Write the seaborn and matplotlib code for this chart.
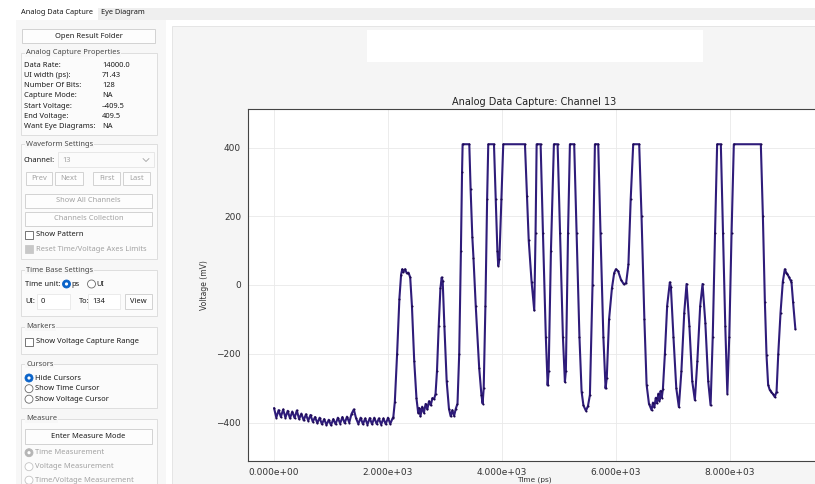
import numpy as np
import pandas as pd
import matplotlib
matplotlib.use("Agg")
import matplotlib.pyplot as plt
from matplotlib.patches import Rectangle, Ellipse
from matplotlib.lines import Line2D
from matplotlib.ticker import FuncFormatter
import seaborn as sns

# Waveform read off the capture (time in ps, voltage in mV)
# quiet low level before the first transition
lead_time_ps = [0, 40, 80, 120, 160, 200, 240, 280, 320, 360, 400, 440, 480, 520,
                560, 600, 640, 680, 720, 760, 800, 840, 880, 920, 960, 1000, 1040,
                1080, 1120, 1160, 1200, 1240, 1280, 1320, 1360, 1400, 1440, 1480,
                1520, 1560, 1600, 1640, 1680, 1720, 1760, 1800, 1840, 1880, 1920,
                1960, 2000, 2040, 2080]
lead_mv = [-358, -386, -364, -384, -362, -386, -366, -388, -368, -387, -365, -390,
           -374, -394, -376, -395, -378, -398, -384, -402, -386, -405, -390, -407,
           -392, -408, -390, -405, -386, -403, -384, -402, -383, -400, -375, -362,
           -388, -404, -386, -405, -388, -406, -387, -405, -386, -404, -388, -406,
           -388, -405, -386, -404, -388]

# data bits section
bits_time_ps = [2093, 2120, 2160, 2200, 2230, 2250, 2270, 2300, 2330, 2360, 2390, 2420,
                2460, 2500, 2530, 2550, 2570, 2600, 2630, 2660, 2690, 2720, 2750, 2780,
                2810, 2835, 2860, 2890, 2920, 2942, 2960, 2990, 3030, 3070, 3100, 3130,
                3160, 3190, 3220, 3250, 3280, 3300, 3310, 3427, 3450, 3480, 3500, 3540,
                3600, 3640, 3661, 3680, 3710, 3740, 3760, 3860, 3890, 3920, 3935, 3955,
                3990, 4023, 4404, 4440, 4470, 4520, 4567, 4590, 4609, 4679, 4720, 4770,
                4802, 4820, 4860, 4912, 4977, 5020, 5070, 5105, 5122, 5160, 5193, 5268,
                5310, 5360, 5398, 5430, 5474, 5510, 5544, 5590, 5632, 5690, 5730, 5780,
                5819, 5840, 5880, 5930, 5970, 6000, 6040, 6090, 6140, 6180, 6220, 6260,
                6304, 6409, 6450, 6500, 6539, 6580, 6626, 6650, 6675, 6700, 6720, 6745,
                6765, 6785, 6805, 6825, 6860, 6900, 6947, 6965, 7010, 7060, 7105, 7150,
                7200, 7240, 7290, 7340, 7386, 7430, 7480, 7521, 7570, 7620, 7662, 7700,
                7740, 7777, 7842, 7880, 7920, 7956, 7990, 8030, 8070, 8544, 8580, 8615,
                8644, 8672, 8700, 8731, 8760, 8789, 8820, 8850, 8890, 8930, 8965, 8990,
                9010, 9040, 9065, 9082, 9110, 9150]
bits_mv = [-385, -340, -200, -40, 30, 46, 38, 46, 34, 36, 22, -60,
           -220, -330, -372, -358, -382, -354, -372, -346, -362, -338, -350, -329,
           -332, -316, -250, -120, -10, 22, 12, -120, -280, -360, -382, -364,
           -381, -360, -345, -200, 100, 330, 409.5, 409.5, 280, 140, 80, -60,
           -240, -320, -345, -300, -60, 250, 409.5, 409.5, 250, 100, 56, 75,
           250, 409.5, 409.5, 260, 130, 10, -74, 150, 409.5, 409.5, 150, -150,
           -292, -250, 100, 409.5, 409.5, 150, -150, -282, -250, 150, 409.5, 409.5,
           150, -150, -310, -350, -366, -352, -320, 0, 409.5, 409.5, 150, -150,
           -301, -270, -100, -10, 35, 46, 40, 15, 2, 6, 60, 250,
           409.5, 409.5, 200, -100, -290, -345, -364, -342, -356, -328, -344, -316,
           -336, -308, -328, -303, -200, -60, 8, -5, -150, -300, -355, -250,
           -80, 3, -120, -280, -335, -220, -60, 3, -110, -280, -350, -150,
           150, 409.5, 409.5, 150, -120, -316, -150, 150, 409.5, 409.5, 200, -50,
           -205, -290, -305, -312, -318, -326, -310, -200, -80, 10, 46, 36,
           32, 22, 14, 8, -50, -128]

x_ticks = [0, 2000, 4000, 6000, 8000]
y_ticks = [-400, -200, 0, 200, 400]

props_labels = ["Data Rate:", "UI width (ps):", "Number Of Bits:", "Capture Mode:",
                "Start Voltage:", "End Voltage:", "Want Eye Diagrams:"]
props_values = ["14000.0", "71.43", "128", "NA", "\u2013409.5", "409.5", "NA"]

df = pd.DataFrame({"Time (ps)": lead_time_ps + bits_time_ps,
                   "Voltage (mV)": lead_mv + bits_mv})

sns.set_style("white")
plt.rcParams["font.family"] = ["DejaVu Sans"]

W, H = 815, 484
fig = plt.figure(figsize=(W / 100, H / 100), dpi=100)
fig.patch.set_facecolor("white")

UI_FONT = ["Noto Sans", "DejaVu Sans"]
DARK = "#1b1b1b"
GREY = "#a2a2a2"


def fx(px):
    return px / W


def fy(py):
    return 1 - py / H


def rect(x0, y0, x1, y1, fc, ec="none", lw=0.8, z=0):
    fig.add_artist(Rectangle((fx(x0), fy(y1)), (x1 - x0) / W, (y1 - y0) / H,
                             transform=fig.transFigure, fc=fc, ec=ec, lw=lw, zorder=z))


def label(px, py, s, color=DARK, size=5.4, weight="normal", ha="left", bg=None):
    t = fig.text(fx(px), fy(py), s, color=color, fontsize=size, fontweight=weight,
                 ha=ha, va="center", family=UI_FONT, zorder=5)
    if bg is not None:
        t.set_bbox(dict(fc=bg, ec="none", pad=0.6))


def button(x0, y0, x1, y1, s, color=DARK):
    rect(x0, y0, x1, y1, "#fdfdfd", "#d2d2d2", 0.7, z=2)
    label((x0 + x1) / 2, (y0 + y1) / 2, s, color=color, ha="center")


def group(x0, y0, x1, y1, title):
    rect(x0, y0, x1, y1, "#fbfbfb", "#dedede", 0.7, z=1)
    label(x0 + 5, y0, title, color="#4a4a4a", bg="#f7f7f7")


def radio(cx, cy, on=False, disabled=False):
    ring = "#c4c4c4" if disabled else "#6a6a6a"
    if on:
        col = "#b5b5b5" if disabled else "#0a63c9"
        fig.add_artist(Ellipse((fx(cx), fy(cy)), 8 / W, 8 / H, transform=fig.transFigure,
                               fc=col, ec=col, lw=0.6, zorder=4))
        fig.add_artist(Ellipse((fx(cx), fy(cy)), 3.2 / W, 3.2 / H, transform=fig.transFigure,
                               fc="white", ec="none", zorder=5))
    else:
        fig.add_artist(Ellipse((fx(cx), fy(cy)), 8 / W, 8 / H, transform=fig.transFigure,
                               fc="white", ec=ring, lw=0.6, zorder=4))


def checkbox(x0, cy, filled=False):
    if filled:
        rect(x0, cy - 4, x0 + 8, cy + 4, "#c8c8c8", "#c8c8c8", 0.6, z=4)
    else:
        rect(x0, cy - 4, x0 + 8, cy + 4, "white", "#5e5e5e", 0.6, z=4)


# ---- window chrome ----
rect(0, 0, W, 8, "white")
rect(98, 8, W, 20, "#efefef")
label(21, 13, "Analog Data Capture", size=5.3)
label(101, 13, "Eye Diagram", size=5.3)
rect(16, 20, 166, H, "#f7f7f7")
rect(172, 26, W, H, "#f5f5f5", "#e2e2e2", 0.6)
rect(367, 30, 703, 62, "white")

# ---- left control panel ----
button(22, 29, 155, 43, "Open Result Folder")

group(21, 53, 157, 135, "Analog Capture Properties")
for i, (k, v) in enumerate(zip(props_labels, props_values)):
    yy = 65.3 + i * 10.2
    label(24, yy, k, weight="bold")
    label(102, yy, v)

group(21, 144, 157, 259, "Waveform Settings")
label(24, 160, "Channel:", weight="bold")
rect(58, 152, 154, 167, "#fbfbfb", "#e4e4e4", 0.6, z=2)
label(62, 160, "13", color=GREY)
fig.add_artist(Line2D([fx(143), fx(146), fx(149)], [fy(158.5), fy(161.5), fy(158.5)],
                      transform=fig.transFigure, color=GREY, lw=0.6, zorder=5))
for x0, x1, s in [(26, 52, "Prev"), (55, 83, "Next"), (93, 120, "First"), (123, 150, "Last")]:
    button(x0, 172, x1, 185, s, color=GREY)
button(25, 194, 152, 208, "Show All Channels", color=GREY)
button(25, 212, 152, 226, "Channels Collection", color=GREY)
checkbox(25, 235)
label(36, 235, "Show Pattern")
checkbox(25, 249.5, filled=True)
label(36, 249.5, "Reset Time/Voltage Axes Limits", color=GREY)

group(21, 270, 157, 316, "Time Base Settings")
label(25, 284, "Time unit:")
radio(66.5, 284, on=True)
label(71, 284, "ps")
radio(91.5, 284)
label(96, 284, "UI")
label(25, 301.5, "UI:")
rect(37, 294, 70, 309, "white", "#e4e4e4", 0.5, z=2)
label(41, 301.5, "0")
label(79, 301.5, "To:")
rect(88, 294, 120, 309, "white", "#e4e4e4", 0.5, z=2)
label(92, 301.5, "134")
button(125, 294, 152, 309, "View")

group(21, 327, 157, 354, "Markers")
checkbox(25, 341.5)
label(36, 341.5, "Show Voltage Capture Range")

group(21, 364, 157, 408, "Cursors")
radio(29, 378, on=True)
label(35, 378, "Hide Cursors")
radio(29, 388.7)
label(35, 388.7, "Show Time Cursor")
radio(29, 399.2)
label(35, 399.2, "Show Voltage Cursor")

group(21, 419, 157, H + 5, "Measure")
button(25, 429, 152, 444, "Enter Measure Mode")
radio(29, 452.7, on=True, disabled=True)
label(35, 452.7, "Time Measurement", color=GREY)
radio(29, 466.7, disabled=True)
label(35, 466.7, "Voltage Measurement", color=GREY)
radio(29, 480.2, disabled=True)
label(35, 480.2, "Time/Voltage Measurement", color=GREY)

# ---- waveform axes ----
ax = fig.add_axes([fx(248), fy(461), (821 - 248) / W, (461 - 109) / H])
ax.set_facecolor("white")
sns.lineplot(data=df, x="Time (ps)", y="Voltage (mV)", ax=ax, sort=False,
             estimator=None, color="#2f1c7a", linewidth=1.5,
             marker="o", markersize=1.5, markeredgewidth=0, markerfacecolor="#1c0950")
ax.set_xlim(-457, 9600)
ax.set_ylim(-512, 512)
ax.set_xticks(x_ticks)
ax.set_yticks(y_ticks)
ax.xaxis.set_major_formatter(FuncFormatter(lambda v, p: f"{v:.3e}"))
ax.grid(True, color="#e9e9e9", linewidth=0.6)
ax.set_axisbelow(True)
ax.tick_params(direction="out", length=3, width=0.6, colors="#333333", labelsize=6.5, pad=2)
for s in ax.spines.values():
    s.set_color("#444444")
    s.set_linewidth(0.8)
ax.set_title("Analog Data Capture: Channel 13", fontsize=7, pad=3, color="#222222")
ax.set_xlabel("Time (ps)", fontsize=5.3, labelpad=0, color="#333333")
ax.set_ylabel("Voltage (mV)", fontsize=5.5, labelpad=5, color="#333333")

fig.savefig("out.png", dpi=100)
